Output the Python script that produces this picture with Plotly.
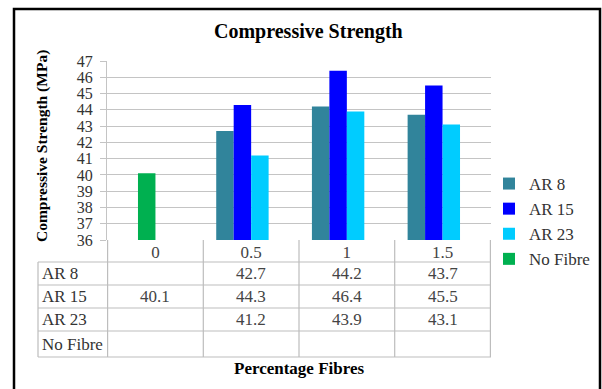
import plotly.graph_objects as go

# Fibre content (%) on the category axis
categories = ["0", "0.5", "1", "1.5"]

# Compressive strength (MPa) for each series; None = no result
ar8 = [None, 42.7, 44.2, 43.7]
ar15 = [40.1, 44.3, 46.4, 45.5]
ar23 = [None, 41.2, 43.9, 43.1]
no_fibre = [None, None, None, None]

series_names = ["AR 8", "AR 15", "AR 23", "No Fibre"]
series_values = [ar8, ar15, ar23, no_fibre]
series_colors = ["#31849B", "#0000FF", "#00CCFF", "#00B050"]

W, H = 602, 389
L, R, T, B = 107, 111, 61, 149
PW, PH = W - L - R, H - T - B
FONT = "Times New Roman, Liberation Serif, serif"


def px(xp):
    return (xp - L) / PW


def py(yp):
    return (H - B - yp) / PH


fig = go.Figure()
for k, (name, vals, col) in enumerate(zip(series_names, series_values, series_colors)):
    shown = list(vals)
    if name == "AR 15":
        shown[0] = None  # the 0 % point is drawn below in the plain-concrete colour
    fig.add_trace(go.Bar(
        x=categories, y=shown, name=name, legendgroup=name,
        offsetgroup=str(k), marker=dict(color=col, line=dict(width=0)),
    ))
# plain concrete (0 % fibre) in the AR 15 slot, coloured as No Fibre
fig.add_trace(go.Bar(
    x=categories[:1], y=ar15[:1], name="AR 15", showlegend=False,
    offsetgroup="1", marker=dict(color=series_colors[3], line=dict(width=0)),
))

shapes = []
annotations = []

# outer chart frame
shapes.append(dict(type="rect", xref="paper", yref="paper",
                   x0=px(14), x1=px(600), y0=py(400), y1=py(9),
                   line=dict(color="black", width=2.5), layer="above"))

# data table grid under the plot
grid = "#BDBDBD"
row_edges = [262, 285, 308, 331, 357]
for i in range(len(categories) + 1):
    shapes.append(dict(type="line", xref="x", yref="paper",
                       x0=i - 0.5, x1=i - 0.5, y0=py(240), y1=py(357),
                       line=dict(color=grid, width=1.2)))
shapes.append(dict(type="line", xref="paper", yref="paper",
                   x0=px(38), x1=px(38), y0=py(262), y1=py(357),
                   line=dict(color=grid, width=1.2)))
for yy in row_edges:
    shapes.append(dict(type="line", xref="paper", yref="paper",
                       x0=px(38), x1=1, y0=py(yy), y1=py(yy),
                       line=dict(color=grid, width=1.2)))

for r, (name, vals) in enumerate(zip(series_names, series_values)):
    ymid = (row_edges[r] + row_edges[r + 1]) / 2
    annotations.append(dict(xref="paper", yref="paper", x=px(40), y=py(ymid),
                            text=name, showarrow=False, xanchor="left",
                            yanchor="middle",
                            font=dict(family=FONT, size=17, color="#333")))
    for ci, v in enumerate(vals):
        if v is None:
            continue
        annotations.append(dict(xref="x", yref="paper", x=ci, y=py(ymid),
                                text=f"{v:.1f}", showarrow=False,
                                xanchor="center", yanchor="middle",
                                font=dict(family=FONT, size=17, color="#444")))

# titles
annotations.append(dict(xref="paper", yref="paper", x=px(308), y=py(32),
                        text="<b>Compressive Strength</b>", showarrow=False,
                        xanchor="center", yanchor="middle",
                        font=dict(family=FONT, size=20, color="black")))
annotations.append(dict(xref="paper", yref="paper", x=px(299), y=py(368),
                        text="<b>Percentage Fibres</b>", showarrow=False,
                        xanchor="center", yanchor="middle",
                        font=dict(family=FONT, size=17, color="black")))
annotations.append(dict(xref="paper", yref="paper", x=px(42), y=py(146),
                        text="<b>Compressive Strength (MPa)</b>",
                        showarrow=False, textangle=-90,
                        xanchor="center", yanchor="middle",
                        font=dict(family=FONT, size=15.5, color="black")))

fig.update_layout(
    width=W, height=H,
    margin=dict(l=L, r=R, t=T, b=B, pad=0, autoexpand=False),
    paper_bgcolor="white", plot_bgcolor="white",
    barmode="group", bargap=0.27, bargroupgap=0,
    showlegend=True,
    legend=dict(xref="container", yref="container",
                x=489 / W, y=1 - 166 / H, xanchor="left", yanchor="top",
                traceorder="grouped", tracegroupgap=0,
                font=dict(family=FONT, size=17, color="#333"),
                bgcolor="rgba(0,0,0,0)", itemwidth=30),
    xaxis=dict(type="category", showgrid=False, showline=False,
               ticks="", tickfont=dict(family=FONT, size=17, color="#444"),
               zeroline=False),
    yaxis=dict(range=[36, 47], dtick=1, showgrid=True, gridcolor="#C4C4C4",
               gridwidth=1.2, showline=True, linecolor="#C4C4C4",
               linewidth=1.2, ticks="outside", ticklen=6,
               tickcolor="#C4C4C4", ticklabelstandoff=4,
               tickfont=dict(family=FONT, size=16, color="#333"),
               zeroline=False),
    shapes=shapes, annotations=annotations,
)

fig.write_html("out.html")
